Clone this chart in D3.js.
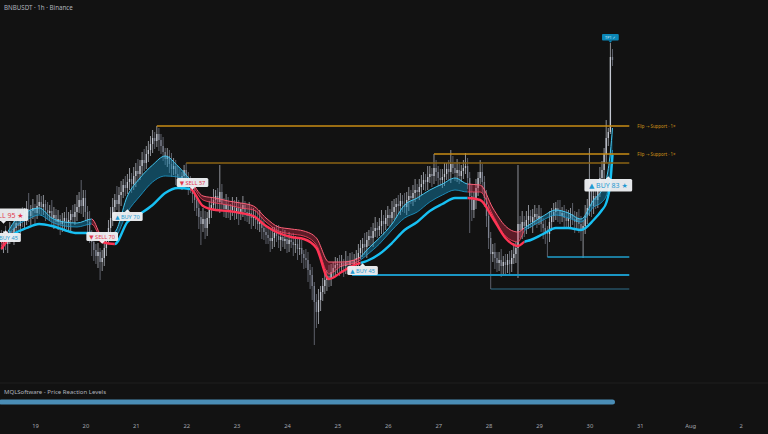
<!DOCTYPE html>
<html><head><meta charset="utf-8">
<script src="https://cdn.jsdelivr.net/npm/d3@7"></script>
<style>html,body{margin:0;padding:0;background:#121212;overflow:hidden}</style>
</head><body><svg id="c" width="768" height="434"></svg>
<script>
// ---------------- DATA ----------------
const chartTitle = "BNBUSDT · 1h · Binance";
const panelTitle = "MQLSoftware - Price Reaction Levels";
const firstBarUTC = Date.UTC(2025, 6, 18, 8); // first hourly candle
const firstOpen = 776;
const closes = [
 774,776.5,773,777,779.5,778,781,783.5,782,786,
 784.5,788,790.5,787,789.5,791,788.5,792,794,791.5,
 793,790,788.5,789.5,786,787.5,784,785.5,783,784.5,
 786,783.5,785,788,786.5,789,791.5,795,792,796,
 789,784,778,774,770,767,769,764,766,771,
 776,781,786,791.5,795,793,797.5,799,802.5,801,
 804,805.5,803,807,809.5,808,812,815,813.5,818,
 820,823,826,824.5,828,825,822,819,815.5,817,
 813,810.5,812,808,806,804.5,807,810,806,803,
 802.5,798,795,791,786.5,783,785.5,781,786,790,
 792.5,795,797,794,799,793,790.5,792.5,789,790,
 792,789.5,791,788,790.5,792.5,789,787,788.5,786,
 787,785,783,784.5,781,779,777.5,776,774.5,776,
 778.5,777,775,776.5,774.5,775.5,773,775,774,772.5,
 773,770.5,771,768,766,765,760,757.5,752,744,
 739,745,749,752,755,757,756,759,761,762.5,
 763,761.5,763.5,762,764,762.5,764.5,763,765,766,
 768.5,771,773,771.5,775,777,776,779.5,781,780,
 782,784.5,783,786,787.5,786,789,791.5,793,792,
 794.5,793,791.5,795,797,796,798.5,800,799,801.5,
 803,805,804,806.5,808,807,811,809,806,805,
 806.5,808,810.5,809,813,811,808.5,810,807,809.5,
 811,812,806,797,790,795,801,806,809,804,
 796,787,776,768,769,766,763.5,765,762,764,
 762.5,765,763,766,768,771,783,780,784,782,
 785,787,784,786.5,788,785.5,787,783,781,779,
 778,784,787,789,791,789.5,787,788.5,786,784.5,
 786,788,785.5,784,786,783,780,782,787,791,
 800,792,797,795,801,806,810,818,826,829,866.5,865
];
const wickUp = [
 4,3,5.5,2,4.5,3,4,7,3,4,
 5.5,3,4,8,3,4.5,2,5.5,4,3,
 4.5,2,4,3,5.5,4,3,4.5,2,4,
 3,5.5,4,2,4.5,4,6,4,10,4,
 4,3,5.5,2,4,3,4.5,2,4,5.5,
 3,4,5.5,4.5,3,7,4,5.5,3,4.5,
 4,5.5,3,4.5,4,6,3,4,5.5,4,
 4.5,4,4,3,4,3,3,4.5,2,4,
 3,5.5,4,3,4,4.5,2,2.5,3.5,3,
 4,3,4.5,2,4,3,5.5,4,3,4.5,
 4,5.5,3,4,13.5,4,3,5.5,4,3,
 4.5,3,5.5,4,3,4.5,2,4,5.5,3,
 4,3,4.5,5.5,2,4,3,4.5,4,5.5,
 3,4,5.5,3,4,4.5,2,4,3,4.5,
 4,3,5.5,4,2,4.5,4,3,4,2,
 4,5.5,3,4,4.5,3,5.5,4,3,4,
 3,4.5,4,2,5.5,3,4,4.5,3,4,
 4.5,4,3,5.5,4,3,4.5,4,5.5,3,
 4,5.5,3,4,4.5,3,5.5,4,3,4.5,
 4,3,5.5,4,4.5,3,4,5.5,3,4,
 4.5,4,3,5.5,4,3,7,4,3,4.5,
 4,5.5,3,4.5,7,4,3,5.5,4,3,
 4,6.5,4,3,5.5,4,4.5,3,6,4,
 3,4,5.5,3,4,4.5,3,4,5.5,3,
 4,3,4.5,4,5.5,3,29.5,4,5.5,3,
 4.5,5.5,3,4,4.5,3,5.5,4,3,4,
 3,5.5,4,4.5,3,4,5.5,3,4,4.5,
 4,3,5.5,4,3,4.5,4,3,5.5,4.5,
 21,4,5.5,4.5,4,5.5,4.5,3,9,2,7,4
];
const wickDn = [
 4,5.5,3,4.5,4,2,5.5,4,3,4.5,
 3,4,5.5,3,4.5,4,5.5,3,4,4.5,
 4,5.5,3,4,4.5,5.5,3,4,5.5,4,
 4.5,3,4,5.5,3,4,4.5,3,4,5.5,
 4,5.5,4.5,7,5.5,4,6,9,4.5,4,
 4,3,5.5,4,4.5,3,4,5.5,3,4,
 3,4,4.5,3,5.5,4,3,4.5,4,3,
 4,3,4.5,4,3,5.5,4,4.5,3,4,
 4.5,4,3,5.5,4,3,4.5,4,3,5.5,
 4,4.5,5.5,4,6,10.5,4,5.5,4,3,
 4,3,4.5,4,5.5,3,4,4.5,3,4,
 3,4.5,4,5.5,3,4,4.5,3,4,5.5,
 4,4.5,3,4,5.5,4,4.5,3,5.5,4,
 4.5,3,4,5.5,3,4,4.5,4,3,5.5,
 4,5.5,3,4.5,5.5,4,6,7,7,21.5,
 8,6,5.5,4.5,4,5.5,4.5,4,3,4,
 4,4.5,3,5.5,4,4.5,3,5.5,4,3,
 4,3,4.5,4,5.5,3,4,4.5,3,4,
 3,4,5.5,3,4,4.5,3,4,5.5,4,
 4.5,4,3,4,5.5,3,4,4.5,3,4,
 4,3,4.5,4,3,5.5,4,4.5,4,3,
 4,4.5,3,4,5.5,3,4,4.5,4,3,
 4,3,5.5,18.5,5.5,4,4.5,4,3,5.5,
 4.5,5.5,5.5,17.5,4,5.5,4.5,4,5.5,4,
 4.5,4,5.5,4,3,4.5,15,4,4.5,5.5,
 4,4.5,3,5.5,4,4.5,3,4,5.5,6,
 11.5,4,4.5,3,4,5.5,4,3,4.5,4,
 4,4.5,3,5.5,4,4.5,5.5,14,4,4,
 4,5.5,4,4.5,4,4.5,4,5.5,4.5,4,1,3
];

// trend ribbon (sampled at these candle indices)
const ribbonBars = [0,3,6,12,18,24,30,36,43,48,54,60,66,72,78,84,90,96,102,108,114,120,126,132,138,144,150,156,162,168,171,174,180,186,192,198,204,210,216,222,228,234,240,246,249,252,258,264,270,276,282,286,288,290,291];
const ribbonFast = [773.5,779,784,789,791,786,784,783.5,785.5,777,779,797,806,812.5,817,812,805,797,796,794.5,793.5,792,786,781.5,780.5,779.5,776,764,764,765,766.5,770,776,783,792.5,796,800,803,806,803,802.5,791,782,779,781,783,787,790,788.5,785.5,795,800,805,819,831];
const ribbonMid = [772,777,781,785,787.5,784,782,781.5,783,775.5,776.5,789,797,804,807,806.5,803.5,795,793.5,792.5,791,790,784,779.5,778,777,772.5,758,762,763.5,765,767.5,773,780,786,789,794,797.5,800,799,799,787.5,777,774,779.5,781.5,785,787.5,786,784,791.5,794,797,807,820];
const ribbonSlow = [770.5,775,778,781,783,782,780,778.5,778.5,774,773,784,788,792.5,798.5,801,800.5,792,790,789.5,788.5,787,782,778.5,776.5,775.5,771,755.5,759,762.5,763.5,764.5,768,773.5,780,784,789.5,793,796,796,795,786,776,772,774,775,778,781,781,780,785,790,793.5,804,817.5];
const ribbonTrend = ["dn","up","up","up","up","up","up","up","dn","dn","up","up","up","up","up","up","dn","dn","dn","dn","dn","dn","dn","dn","dn","dn","dn","dn","dn","dn","up","up","up","up","up","up","up","up","up","dn","dn","dn","dn","dn","up","up","up","up","up","up","up","up","up","up","up"];

// price reaction levels
const levelPrices = [832, 818, 813.5, 766.5, 757.5, 750.5];
const levelStartBars = [74, 206, 88, 260, 167, 233];
const levelEndBar = 299;
const levelKinds = ["flip", "flip", "res", "sup", "supMain", "supOld"];
const levelTexts = ["Flip → Support · 1×", "Flip → Support · 1×", "", "", "", ""];

// signals
const signalBars = [1, 2, 48, 60, 91, 172, 289];
const signalPrices = [783, 780, 773, 790.5, 800, 763.5, 807];
const signalTexts = ["▼ SELL 95 ★", "▲ BUY 45", "▼ SELL 70", "▲ BUY 70", "▼ SELL 57", "▲ BUY 45", "▲ BUY 83 ★"];
const signalSides = ["sell", "buy", "sell", "buy", "sell", "buy", "buy"];
const tpBar = 290, tpPrice = 873.5, tpText = "TP1 ✓";
const panelLevel = 1;

// ---------------- CHART ----------------
const W = 768, Hh = 434;
const HOUR = 3600e3;
const barDate = i => new Date(firstBarUTC + i * HOUR);
const x = d3.scaleUtc().domain([Date.UTC(2025,6,18,7,20), Date.UTC(2025,7,2,13,3)]).range([0, W]);
const y = d3.scaleLinear().domain([700, 880]).range([390, 30]);
const FONT = "'Noto Sans', 'DejaVu Sans', sans-serif";

const svg = d3.select("#c");
svg.append("rect").attr("width", W).attr("height", Hh).attr("fill", "#121212");

const defs = svg.append("defs");
const main = svg.append("g");

// candles
const bars = closes.map((c, i) => {
  const o = i ? closes[i - 1] : firstOpen;
  return { d: barDate(i), o, c, h: Math.max(o, c) + wickUp[i], l: Math.min(o, c) - wickDn[i] };
});
const upCol = "#c3c7d1", dnCol = "#7e8391";
const gC = main.append("g");
gC.selectAll("line").data(bars).join("line")
  .attr("x1", d => x(d.d)).attr("x2", d => x(d.d))
  .attr("y1", d => y(d.h)).attr("y2", d => y(d.l))
  .attr("stroke", d => d.c >= d.o ? upCol : dnCol).attr("stroke-width", 0.7);
gC.selectAll("rect").data(bars).join("rect")
  .attr("x", d => x(d.d) - 0.65).attr("width", 1.3)
  .attr("y", d => y(Math.max(d.o, d.c)))
  .attr("height", d => Math.max(0.8, Math.abs(y(d.o) - y(d.c))))
  .attr("fill", d => d.c >= d.o ? upCol : dnCol);

// ribbon
const rib = ribbonBars.map((b, j) => ({ d: barDate(b), f: ribbonFast[j], m: ribbonMid[j], s: ribbonSlow[j] }));
const runs = [];
let a = 0;
for (let j = 1; j < rib.length - 1; j++) {
  if (ribbonTrend[j] !== ribbonTrend[a]) { runs.push({ a, b: j, t: ribbonTrend[a] }); a = j; }
}
runs.push({ a, b: rib.length - 1, t: ribbonTrend[a] });
["up", "dn"].forEach(t => {
  const cp = defs.append("clipPath").attr("id", "clip-" + t);
  runs.filter(r => r.t === t).forEach(r => {
    const x0 = r.a === 0 ? 0 : x(rib[r.a].d);
    const x1 = r.b === rib.length - 1 ? W : x(rib[r.b].d);
    cp.append("rect").attr("x", x0).attr("y", 0).attr("width", x1 - x0).attr("height", Hh);
  });
});
const curve = d3.curveMonotoneX;
const area = d3.area().x(d => x(d.d)).y0(d => y(d.m)).y1(d => y(d.f)).curve(curve);
const lineF = d3.line().x(d => x(d.d)).y(d => y(d.f)).curve(curve);
const lineM = d3.line().x(d => x(d.d)).y(d => y(d.m)).curve(curve);
const lineS = d3.line().x(d => x(d.d)).y(d => y(d.s)).curve(curve);
const ribStyle = {
  up: { fill: "#1492c4", fo: 0.42, f: "#45c8f2", m: "#1f9fd2", s: "#17c0f3" },
  dn: { fill: "#d42a4a", fo: 0.38, f: "#ff6178", m: "#ff4562", s: "#ff3454" }
};
["up", "dn"].forEach(t => {
  const st = ribStyle[t];
  const g = main.append("g").attr("clip-path", `url(#clip-${t})`);
  g.append("path").attr("d", area(rib)).attr("fill", st.fill).attr("fill-opacity", st.fo);
  g.append("path").attr("d", lineF(rib)).attr("fill", "none").attr("stroke", st.f).attr("stroke-width", 1);
  g.append("path").attr("d", lineM(rib)).attr("fill", "none").attr("stroke", st.m).attr("stroke-width", 0.9).attr("opacity", 0.9);
  g.append("path").attr("d", lineS(rib)).attr("fill", "none").attr("stroke", st.s).attr("stroke-width", 2.4);
});

// levels
const levelStyle = {
  flip: { c: "#c98d14", w: 1.5, o: 1 },
  res: { c: "#8c6414", w: 1.5, o: 1 },
  sup: { c: "#1f9fcc", w: 1.3, o: 1 },
  supMain: { c: "#1a96c4", w: 2, o: 1 },
  supOld: { c: "#3a90b4", w: 0.9, o: 0.85 }
};
const gL = main.append("g");
levelPrices.forEach((p, k) => {
  const st = levelStyle[levelKinds[k]];
  gL.append("line").attr("x1", x(barDate(levelStartBars[k]))).attr("x2", x(barDate(levelEndBar)))
    .attr("y1", y(p)).attr("y2", y(p)).attr("stroke", st.c).attr("stroke-width", st.w).attr("opacity", st.o);
  if (levelTexts[k]) {
    gL.append("text").attr("x", x(barDate(levelEndBar)) + 8).attr("y", y(p))
      .attr("dominant-baseline", "central").attr("font-family", FONT).attr("font-size", 4.4)
      .attr("fill", "#cf9418").text(levelTexts[k]);
  }
});

// signal labels
const gS = main.append("g");
signalBars.forEach((b, k) => {
  const cx = x(barDate(b)), cy = y(signalPrices[k]);
  const strong = signalTexts[k].includes("★");
  const fs = strong ? 7 : 5.6, h = strong ? 12.5 : 9;
  const isBuy = signalSides[k] === "buy";
  const col = isBuy ? "#1f9ad2" : "#e2384f";
  const g = gS.append("g");
  const rect = g.append("rect");
  const tri = g.append("path");
  const txt = g.append("text").attr("font-family", FONT).attr("font-size", fs).attr("fill", col)
    .attr("text-anchor", "middle").attr("dominant-baseline", "central").text(signalTexts[k]);
  const w = txt.node().getComputedTextLength() + (strong ? 9 : 6);
  const top = isBuy ? cy + 3 : cy - 3 - h;
  rect.attr("x", cx - w / 2).attr("y", top).attr("width", w).attr("height", h).attr("rx", 1.5)
    .attr("fill", "#eef0f4").attr("opacity", 0.96);
  tri.attr("d", isBuy
      ? `M${cx - 2.6},${top} L${cx + 2.6},${top} L${cx},${top - 2.8}Z`
      : `M${cx - 2.6},${top + h} L${cx + 2.6},${top + h} L${cx},${top + h + 2.8}Z`)
    .attr("fill", "#eef0f4");
  txt.attr("x", cx).attr("y", top + h / 2 + 0.3);
});

// TP marker
{
  const cx = x(barDate(tpBar)), cy = y(tpPrice);
  const g = gS.append("g");
  const txt = g.append("text").attr("font-family", FONT).attr("font-size", 3.8).attr("fill", "#d6f2ff")
    .attr("text-anchor", "middle").attr("dominant-baseline", "central").text(tpText);
  const w = txt.node().getComputedTextLength() + 6, h = 6.5, top = cy - 2.5 - h;
  g.insert("rect", "text").attr("x", cx - w / 2).attr("y", top).attr("width", w).attr("height", h).attr("rx", 1)
    .attr("fill", "#0b86b6");
  g.insert("path", "text").attr("d", `M${cx - 2},${top + h} L${cx + 2},${top + h} L${cx},${top + h + 2.3}Z`).attr("fill", "#0b86b6");
  txt.attr("x", cx).attr("y", top + h / 2);
}

// title
svg.append("text").attr("x", 4).attr("y", 10).attr("font-family", FONT).attr("font-size", 6.2)
  .attr("fill", "#b0b3bc").text(chartTitle);

// bottom panel
svg.append("line").attr("x1", 0).attr("x2", W).attr("y1", 383).attr("y2", 383).attr("stroke", "#1f1f1f").attr("stroke-width", 1);
svg.append("text").attr("x", 4).attr("y", 393.5).attr("font-family", FONT).attr("font-size", 6)
  .attr("fill", "#b0b3bc").text(panelTitle);
const yP = d3.scaleLinear().domain([0, 2]).range([421, 383]);
svg.append("path")
  .attr("d", d3.line().x(d => x(d)).y(() => yP(panelLevel))([barDate(0), barDate(closes.length - 1)]))
  .attr("stroke", "#4a8db6").attr("stroke-width", 5).attr("stroke-linecap", "round").attr("fill", "none");

// x axis
const ax = svg.append("g").attr("transform", "translate(0,421)")
  .call(d3.axisBottom(x).ticks(d3.utcDay.every(1)).tickSize(0).tickPadding(3)
    .tickFormat(d => d.getUTCDate() === 1 ? d3.utcFormat("%b")(d) : d.getUTCDate()));
ax.select(".domain").remove();
ax.selectAll("text").attr("font-family", FONT).attr("font-size", 5.8).attr("fill", "#a3a6ae");
</script></body></html>
